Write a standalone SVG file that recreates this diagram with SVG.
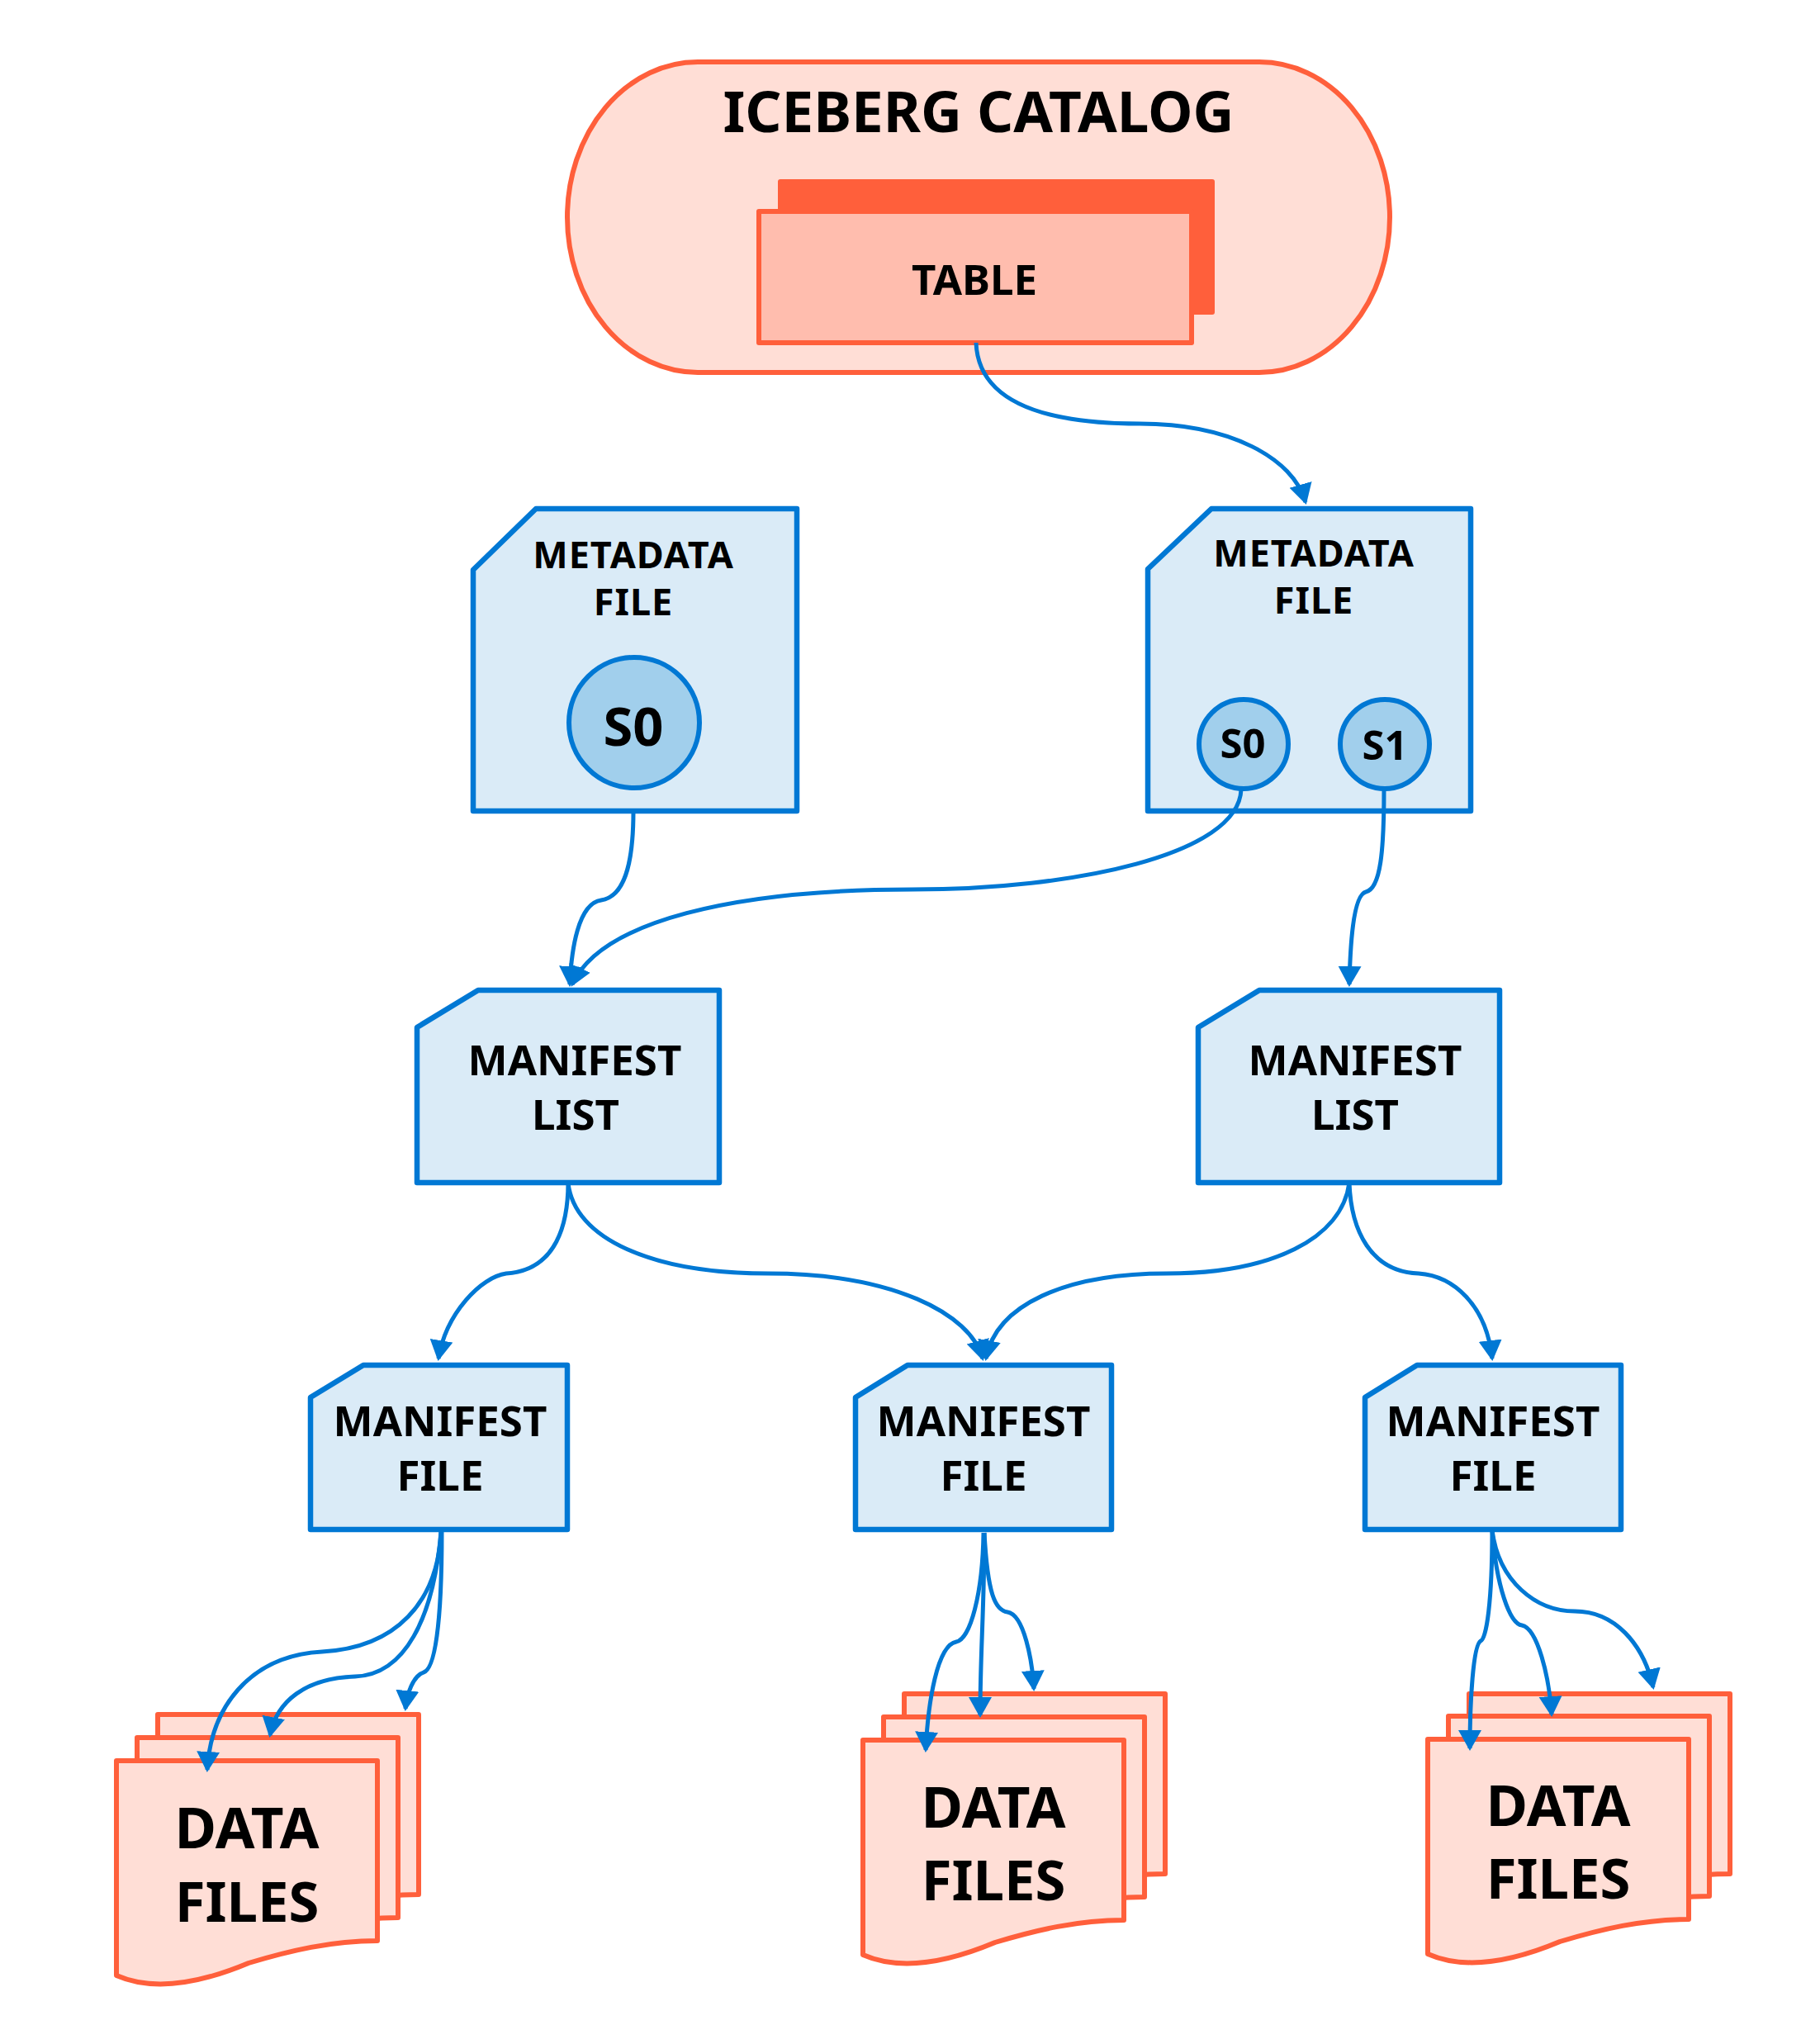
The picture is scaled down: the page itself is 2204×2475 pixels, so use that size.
<svg xmlns="http://www.w3.org/2000/svg" xmlns:xlink="http://www.w3.org/1999/xlink" width="2204" height="2475" viewBox="0 0 2204 2475">
<style>
.bl{fill:#DAEBF7;stroke:#0078D4;stroke-width:6.5;stroke-linejoin:round}
.snap{fill:#A1CFEC;stroke:#0078D4;stroke-width:6}
.or{fill:#FFDED6;stroke:#FF5F3B;stroke-width:6;stroke-linejoin:round}
.t{font-family:"Noto Sans","Open Sans","DejaVu Sans",sans-serif;font-weight:bold;fill:#000;text-anchor:middle}
.md{font-size:45px;letter-spacing:1px}
.c{fill:none;stroke:#0078D4;stroke-width:5}
</style>
<defs>
<marker id="ah" markerUnits="userSpaceOnUse" markerWidth="28" markerHeight="30" refX="22" refY="14" orient="auto">
<path d="M0,0 L25,14 L0,28 Z" fill="#0078D4"/>
</marker>
<path id="page" d="M0,0 H316 V218 C260,218 210,230 160,245 C110,266 50,282 0,260 Z"/>
</defs>
<rect width="2204" height="2475" fill="#fff"/>

<g id="catalog">
<rect x="687" y="75" width="996" height="376" rx="158" ry="188" class="or"/>
<text class="t" x="1185" y="160" font-size="69">ICEBERG CATALOG</text>
</g>
<g id="table">
<rect x="945" y="220" width="523" height="158" fill="#FF5F3B" stroke="#FF5F3B" stroke-width="6" stroke-linejoin="round"/>
<rect x="919" y="256" width="524" height="159" fill="#FFBDAE" stroke="#FF5F3B" stroke-width="6" stroke-linejoin="round"/>
<text class="t" x="1180" y="357" font-size="51">TABLE</text>
</g>

<g id="metadata-left">
<path class="bl" d="M573,690 L649,616 H965 V982 H573 Z"/>
<text class="t md" x="767" y="688">METADATA</text>
<text class="t md" x="767" y="745">FILE</text>
<circle class="snap" cx="768" cy="875" r="79"/>
<text class="t" x="767" y="903" font-size="65">S0</text>
</g>
<g id="metadata-right">
<path class="bl" d="M1390,689 L1467,616 H1781 V982 H1390 Z"/>
<text class="t md" x="1591" y="686">METADATA</text>
<text class="t md" x="1591" y="743">FILE</text>
<circle class="snap" cx="1506" cy="901" r="54"/>
<text class="t" x="1505" y="918" font-size="49">S0</text>
<circle class="snap" cx="1677" cy="901" r="54"/>
<text class="t" x="1677" y="920" font-size="49">S1</text>
</g>

<g id="manifest-list-left">
<path class="bl" d="M505,1244 L579,1199 H871 V1432 H505 Z"/>
<text class="t" x="696" y="1302" font-size="51">MANIFEST</text>
<text class="t" x="697" y="1368" font-size="51">LIST</text>
</g>
<g id="manifest-list-right">
<path class="bl" d="M1451,1244 L1525,1199 H1816 V1432 H1451 Z"/>
<text class="t" x="1641" y="1302" font-size="51">MANIFEST</text>
<text class="t" x="1641" y="1368" font-size="51">LIST</text>
</g>

<g id="manifest-file-left">
<path class="bl" d="M376,1692 L440,1653 H687 V1852 H376 Z"/>
<text class="t" x="533" y="1739" font-size="51">MANIFEST</text>
<text class="t" x="533" y="1805" font-size="51">FILE</text>
</g>
<g id="manifest-file-middle">
<path class="bl" d="M1036,1692 L1099,1653 H1346 V1852 H1036 Z"/>
<text class="t" x="1191" y="1739" font-size="51">MANIFEST</text>
<text class="t" x="1191" y="1805" font-size="51">FILE</text>
</g>
<g id="manifest-file-right">
<path class="bl" d="M1653,1692 L1716,1653 H1963 V1852 H1653 Z"/>
<text class="t" x="1808" y="1739" font-size="51">MANIFEST</text>
<text class="t" x="1808" y="1805" font-size="51">FILE</text>
</g>

<g id="data-files-left">
<use xlink:href="#page" class="or" x="191" y="2076"/>
<use xlink:href="#page" class="or" x="166" y="2104"/>
<use xlink:href="#page" class="or" x="141" y="2132"/>
<text class="t" x="299" y="2238" font-size="69">DATA</text>
<text class="t" x="299" y="2327" font-size="67">FILES</text>
</g>
<g id="data-files-middle">
<use xlink:href="#page" class="or" x="1095" y="2051"/>
<use xlink:href="#page" class="or" x="1070" y="2079"/>
<use xlink:href="#page" class="or" x="1045" y="2107"/>
<text class="t" x="1203" y="2213" font-size="69">DATA</text>
<text class="t" x="1203" y="2301" font-size="67">FILES</text>
</g>
<g id="data-files-right">
<use xlink:href="#page" class="or" x="1779" y="2051"/>
<use xlink:href="#page" class="or" x="1754" y="2078"/>
<use xlink:href="#page" class="or" x="1729" y="2106"/>
<text class="t" x="1887" y="2211" font-size="69">DATA</text>
<text class="t" x="1887" y="2299" font-size="67">FILES</text>
</g>

<g id="connectors" class="c">
<path class="c" marker-end="url(#ah)" d="M1182,415 C1185,490 1270,513 1380,513 C1490,513 1566,555 1581,608"/>
<path class="c" marker-end="url(#ah)" d="M767,982 C767,1050 755,1086 728,1090 C700,1094 692,1150 690,1192"/>
<path class="c" marker-end="url(#ah)" d="M1503,956 C1500,1035 1300,1077 1105,1077 C890,1077 728,1115 693,1192"/>
<path class="c" marker-end="url(#ah)" d="M1676,956 C1676,1030 1672,1076 1654,1080 C1638,1084 1635,1150 1634,1192"/>
<path class="c" marker-end="url(#ah)" d="M688,1432 C688,1480 675,1538 613,1542 C583,1546 540,1590 531,1645"/>
<path class="c" marker-end="url(#ah)" d="M688,1432 C695,1500 790,1542 930,1542 C1080,1542 1175,1590 1190,1645"/>
<path class="c" marker-end="url(#ah)" d="M1634,1432 C1625,1500 1540,1542 1413,1542 C1290,1542 1206,1580 1194,1645"/>
<path class="c" marker-end="url(#ah)" d="M1634,1432 C1636,1490 1660,1540 1718,1542 C1760,1545 1800,1580 1807,1645"/>
<path class="c" marker-end="url(#ah)" d="M534,1855 C530,1940 480,1995 390,2000 C300,2005 255,2070 251,2143"/>
<path class="c" marker-end="url(#ah)" d="M534,1855 C525,1960 490,2028 430,2030 C370,2032 335,2060 327,2101"/>
<path class="c" marker-end="url(#ah)" d="M535,1855 C535,1940 530,2020 513,2025 C500,2030 493,2050 491,2069"/>
<path class="c" marker-end="url(#ah)" d="M1191,1856 C1190,1930 1175,1985 1158,1988 C1135,1992 1124,2060 1121,2119"/>
<path class="c" marker-end="url(#ah)" d="M1192,1856 C1192,1950 1187,2000 1187,2077"/>
<path class="c" marker-end="url(#ah)" d="M1192,1856 C1196,1930 1205,1950 1220,1952 C1240,1955 1250,2010 1252,2045"/>
<path class="c" marker-end="url(#ah)" d="M1807,1853 C1807,1940 1800,1985 1793,1987 C1784,1992 1780,2060 1780,2117"/>
<path class="c" marker-end="url(#ah)" d="M1807,1853 C1812,1920 1828,1966 1843,1968 C1862,1972 1876,2030 1879,2076"/>
<path class="c" marker-end="url(#ah)" d="M1807,1853 C1815,1915 1860,1951 1907,1951 C1955,1951 1990,1990 2002,2043"/>
</g>
</svg>
